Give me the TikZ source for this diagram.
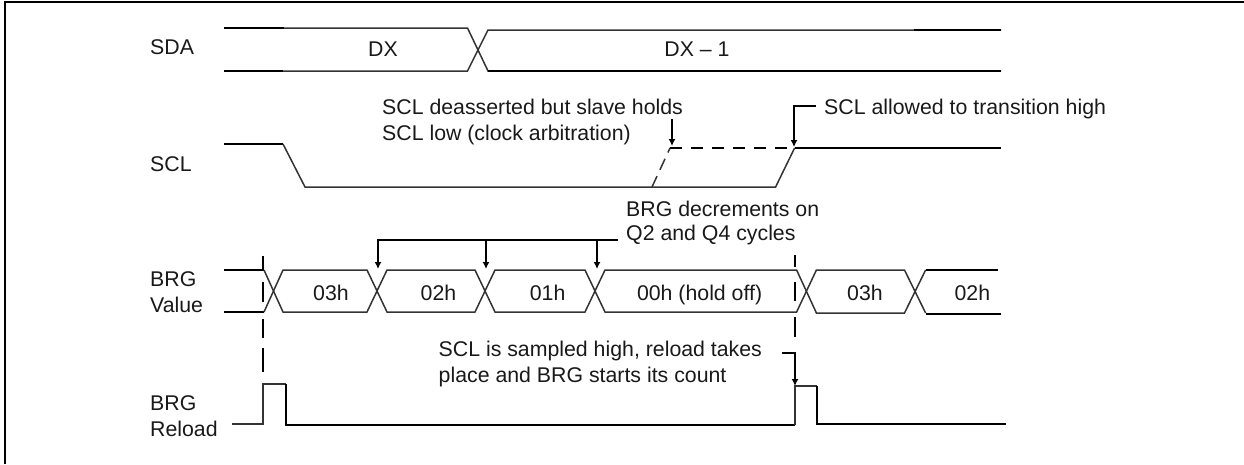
\documentclass[tikz,border=0pt]{standalone}
\usepackage{fontspec}
\setmainfont{Liberation Sans}
\usetikzlibrary{arrows.meta}
\tikzset{
  thick wave/.style={line width=2pt,black,line join=miter},
  thin wave/.style={line width=1.5pt,black!80,line join=miter},
  callout/.style={line width=1.6pt,black,-{Latex[length=7pt,width=7pt]}},
  lbl/.style={font=\fontsize{21.3}{25}\selectfont,inner sep=0pt,anchor=base west,text=black!90},
  ctr/.style={font=\fontsize{21.3}{25}\selectfont,inner sep=0pt,anchor=base,text=black!90}
}
\begin{document}
\begin{tikzpicture}[x=1pt,y=-1pt]
\useasboundingbox (0,0) rectangle (1244,464);
% frame
\draw[line width=2pt] (5,464) -- (5,2) -- (1244,2);
% signal labels
\node[lbl] (sda) at (150,54) {SDA};
\node[lbl] (scl) at (150,171) {SCL};
\node[lbl] (brgv1) at (150,286) {BRG};
\node[lbl] (brgv2) at (150,312) {Value};
\node[lbl] (brgr1) at (150,410) {BRG};
\node[lbl] (brgr2) at (150,436) {Reload};
% SDA waveform
\draw[thin wave] (224,28) -- (467.5,28) -- (488,71) -- (1001,71);
\draw[thin wave] (224,71) -- (467.5,71) -- (488,30) -- (1001,30);
\draw[thick wave] (224,28) -- (284,28) (224,71) -- (283,71) (488,71) -- (1001,71) (914,30) -- (1001,30);
\node[ctr] (dx) at (383,56) {DX};
\node[ctr] (dxm) at (697,56) {DX – 1};
% SCL waveform
\draw[thick wave] (224,144) -- (283,144);
\draw[thin wave] (283,144) -- (305,187) -- (775.6,187) -- (794.6,148);
\draw[thick wave] (794.6,148) -- (1001,148);
\draw[thin wave,dash pattern=on 12pt off 7pt] (652,187) -- (670,148);
\draw[line width=1.8pt,dash pattern=on 12pt off 9pt] (670,148) -- (795,148);
% BRG value waveform
\draw[thick wave] (224,270) -- (264,270) (224,312) -- (264,312);
\draw[thin wave] (264,270) -- (283,312) -- (367,312) -- (387,270) -- (475,270) -- (495,312) -- (585,312) -- (605,270) -- (796.6,270) -- (816.4,313) -- (904.5,313) -- (925.6,270);
\draw[thin wave] (264,312) -- (283,270) -- (367,270) -- (387,312) -- (475,312) -- (495,270) -- (585,270) -- (605,312) -- (796.6,312) -- (816.4,270) -- (904.5,270) -- (925.6,313);
\draw[thick wave] (925.6,270) -- (998,270) (925.6,314) -- (1001,314);
\node[ctr] (v1) at (331,300) {03h};
\node[ctr] (v2) at (438.5,300) {02h};
\node[ctr] (v3) at (547.6,300) {01h};
\node[ctr] (v4) at (699.6,300) {00h (hold off)};
\node[ctr] (v5) at (865,300) {03h};
\node[ctr] (v6) at (972.4,300) {02h};
% sync dashes
\draw[line width=2pt,dash pattern=on 13pt off 13pt on 20pt off 17pt on 19pt off 10pt on 25pt off 100pt] (263,256) -- (263,372);
\draw[line width=2pt,dash pattern=on 12pt off 15pt on 19pt off 16pt on 20pt off 100pt] (795,255) -- (795,337);
% BRG reload
\draw[thin wave] (232,424) -- (263,424) -- (263,384) -- (286,384);
\draw[thick wave] (286,384) -- (286,425) -- (795,425);
\draw[thin wave] (795,425) -- (795,386) -- (817,386);
\draw[thick wave] (817,386) -- (817,424) -- (1006,424);
% annotations
\node[lbl] (t1a) at (382,114) {SCL deasserted but slave holds};
\node[lbl] (t1b) at (382,140) {SCL low (clock arbitration)};
\node[lbl] (t2) at (824,114) {SCL allowed to transition high};
\node[lbl] (t3a) at (626,216) {BRG decrements on};
\node[lbl] (t3b) at (626,240) {Q2 and Q4 cycles};
\node[lbl] (t4a) at (438.5,356) {SCL is sampled high, reload takes};
\node[lbl] (t4b) at (438.5,382) {place and BRG starts its count};
\coordinate (a1s) at (672,119); \coordinate (a1e) at (672,146);
\draw[callout] (a1s) -- (a1e);
\coordinate (a2s) at (816,106); \coordinate (a2m) at (794,106); \coordinate (a2e) at (794,147);
\draw[callout] (a2s) -- (a2m) -- (a2e);
\coordinate (b0) at (618,240); \coordinate (b1) at (378,240); \coordinate (b1e) at (378,269);
\coordinate (b2) at (486,240); \coordinate (b2e) at (486,269);
\coordinate (b3) at (597,240); \coordinate (b3e) at (597,269);
\draw[callout] (b0) -- (b1) -- (b1e);
\draw[callout] (b2) -- (b2e);
\draw[callout] (b3) -- (b3e);
\coordinate (c0) at (782,353); \coordinate (c1) at (795,353); \coordinate (c2) at (795,386);
\draw[callout] (c0) -- (c1) -- (c2);
\end{tikzpicture}
\end{document}
